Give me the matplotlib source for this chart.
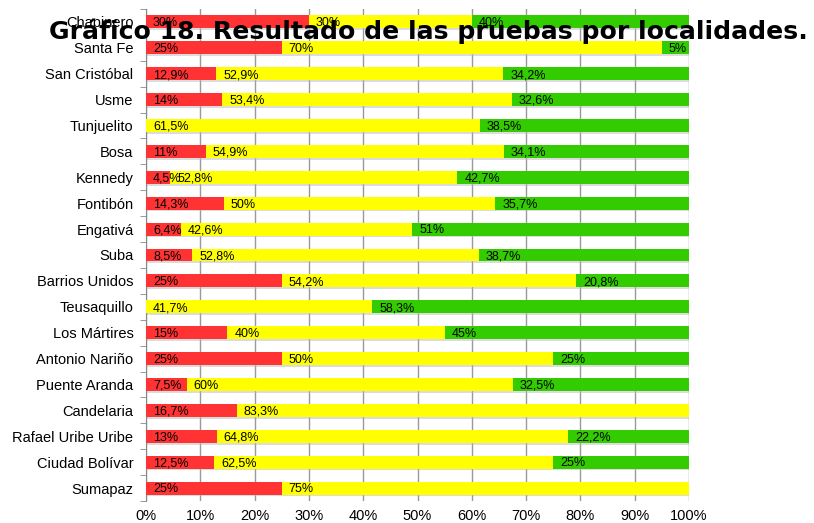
import matplotlib
matplotlib.use("Agg")
import matplotlib.pyplot as plt
import numpy as np

categories = ["Chapinero", "Santa Fe", "San Cristóbal", "Usme", "Tunjuelito", "Bosa",
              "Kennedy", "Fontibón", "Engativá", "Suba", "Barrios Unidos", "Teusaquillo",
              "Los Mártires", "Antonio Nariño", "Puente Aranda", "Candelaria",
              "Rafael Uribe Uribe", "Ciudad Bolívar", "Sumapaz"]
red = [30, 25, 12.9, 14, 0, 11, 4.5, 14.3, 6.4, 8.5, 25, 0, 15, 25, 7.5, 16.7, 13, 12.5, 25]
yellow = [30, 70, 52.9, 53.4, 61.5, 54.9, 52.8, 50, 42.6, 52.8, 54.2, 41.7, 40, 50, 60, 83.3, 64.8, 62.5, 75]
green = [40, 5, 34.2, 32.6, 38.5, 34.1, 42.7, 35.7, 51, 38.7, 20.8, 58.3, 45, 25, 32.5, 0, 22.2, 25, 0]
xticks = [0, 10, 20, 30, 40, 50, 60, 70, 80, 90, 100]
title = "Gráfico 18. Resultado de las pruebas por localidades."

colors = ["#FF3333", "#FFFF00", "#33CC00"]

fig = plt.figure(figsize=(8.14, 5.23), dpi=100)
ax = fig.add_axes([146/814, 1 - 501/523, (689-146)/814, (501-9)/523])

n = len(categories)
y = np.arange(n)
left = np.zeros(n)
def fmt(v):
    s = ("%g" % v).replace(".", ",")
    return s + "%"

for series, c in zip([red, yellow, green], colors):
    vals = np.array(series, dtype=float)
    # shadow
    ax.barh(y + 0.07, vals, left=left, height=0.5, color="#BBBBBB", alpha=0.5, zorder=2, linewidth=0)
    ax.barh(y, vals, left=left, height=0.5, color=c, zorder=3, linewidth=0)
    for i, v in enumerate(vals):
        if v > 0:
            ax.text(left[i] + 1.3, y[i] + 0.05, fmt(v), va="center", ha="left",
                    fontsize=9, family="Liberation Sans", zorder=5)
    left += vals

ax.set_xlim(0, 100)
ax.set_ylim(n - 0.5, -0.5)
ax.set_yticks(y)
ax.set_yticklabels(categories, family="Liberation Sans", fontsize=10.5)
ax.set_xticks(xticks)
ax.set_xticklabels([f"{t}%" for t in xticks], family="Liberation Sans", fontsize=10.5)
ax.set_yticks(np.arange(n + 1) - 0.5, minor=True)
ax.tick_params(axis="y", which="major", length=0, pad=9)
ax.tick_params(axis="y", which="minor", length=4, color="#888888", direction="out")
ax.tick_params(axis="x", length=0, pad=6)
ax.xaxis.grid(True, color="#999999", linewidth=1, zorder=0)
ax.set_axisbelow(True)
for s in ["top", "right", "bottom"]:
    ax.spines[s].set_visible(False)
ax.spines["left"].set_color("#888888")

fig.text(428/814, 1 - 31/523, title, ha="center", va="center", fontsize=18.1,
         fontweight="bold", family="DejaVu Sans", zorder=10)

fig.savefig("out.png", dpi=100)
